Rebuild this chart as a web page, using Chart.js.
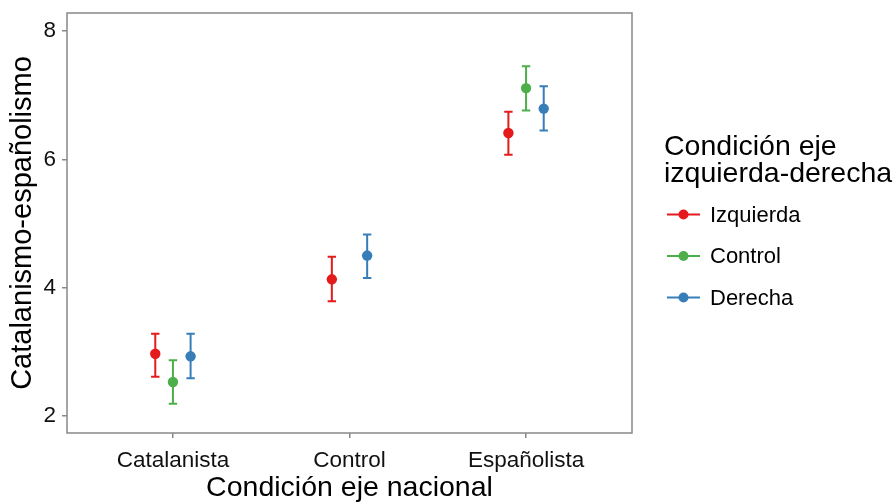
<!DOCTYPE html>
<html>
<head>
<meta charset="utf-8">
<script src="https://cdn.jsdelivr.net/npm/chart.js@4/dist/chart.umd.min.js"></script>
<style>
html,body{margin:0;padding:0;background:#fff;}
#wrap{width:896px;height:502px;position:relative;}
</style>
</head>
<body>
<div id="wrap"><canvas id="c" width="896" height="502"></canvas></div>
<script>
// ---- data ----
const categories = ['Catalanista', 'Control', 'Españolista'];
const seriesNames = ['Izquierda', 'Control', 'Derecha'];
const izquierdaMean = [2.97, 4.13, 6.41];
const izquierdaLow  = [2.61, 3.79, 6.07];
const izquierdaHigh = [3.28, 4.48, 6.74];
const controlMean = [2.53, null, 7.11];
const controlLow  = [2.19, null, 6.76];
const controlHigh = [2.87, null, 7.45];
const derechaMean = [2.93, 4.50, 6.79];
const derechaLow  = [2.59, 4.15, 6.45];
const derechaHigh = [3.28, 4.83, 7.14];
const yTicks = [2, 4, 6, 8];
const legendTitle = ['Condición eje', 'izquierda-derecha'];
const xTitle = 'Condición eje nacional';
const yTitle = 'Catalanismo-españolismo';

const colors = ['#E41A1C', '#4DAF4A', '#377EB8'];
const dodge = [-0.1, 0, 0.1];
const FONT = '"Liberation Sans", Arial, sans-serif';

const means = [izquierdaMean, controlMean, derechaMean];
const lows = [izquierdaLow, controlLow, derechaLow];
const highs = [izquierdaHigh, controlHigh, derechaHigh];

const datasets = seriesNames.map((name, s) => ({
  label: name,
  data: means[s].map((v, i) => v == null ? null : ({x: i + 1 + dodge[s], y: v, lo: lows[s][i], hi: highs[s][i]})).filter(d => d),
  backgroundColor: colors[s],
  borderColor: colors[s],
  pointRadius: 5.2,
  pointBorderWidth: 0,
  showLine: false
}));

const errorBars = {
  id: 'errorBars',
  beforeDatasetsDraw(chart) {
    const ctx = chart.ctx, xs = chart.scales.x, ys = chart.scales.y;
    ctx.save();
    ctx.lineWidth = 2;
    chart.data.datasets.forEach(ds => {
      ctx.strokeStyle = ds.borderColor;
      ds.data.forEach(d => {
        const x = xs.getPixelForValue(d.x);
        const y1 = ys.getPixelForValue(d.lo), y2 = ys.getPixelForValue(d.hi);
        const w = 4.2;
        ctx.beginPath();
        ctx.moveTo(x, y1); ctx.lineTo(x, y2);
        ctx.moveTo(x - w, y1); ctx.lineTo(x + w, y1);
        ctx.moveTo(x - w, y2); ctx.lineTo(x + w, y2);
        ctx.stroke();
      });
    });
    ctx.restore();
  }
};

const frameAndLegend = {
  id: 'frameAndLegend',
  afterDraw(chart) {
    const ctx = chart.ctx, a = chart.chartArea;
    ctx.save();
    ctx.strokeStyle = '#888888';
    ctx.lineWidth = 1.5;
    ctx.strokeRect(a.left, a.top, a.right - a.left, a.bottom - a.top);
    // legend
    ctx.fillStyle = '#000';
    ctx.textBaseline = 'alphabetic';
    ctx.textAlign = 'left';
    ctx.font = '28.5px ' + FONT;
    ctx.fillText(legendTitle[0], 664, 155);
    ctx.fillText(legendTitle[1], 664, 182);
    ctx.font = '22px ' + FONT;
    const ys = [214.5, 256, 297.5];
    chart.data.datasets.forEach((ds, i) => {
      const y = ys[i];
      ctx.strokeStyle = ds.borderColor;
      ctx.lineWidth = 2;
      ctx.beginPath(); ctx.moveTo(667, y); ctx.lineTo(700, y); ctx.stroke();
      ctx.fillStyle = ds.backgroundColor;
      ctx.beginPath(); ctx.arc(683.5, y, 5, 0, Math.PI * 2); ctx.fill();
      ctx.fillStyle = '#000';
      ctx.textBaseline = 'middle';
      ctx.fillText(ds.label, 710, y + 1);
    });
    ctx.restore();
  }
};

new Chart(document.getElementById('c'), {
  type: 'scatter',
  data: { datasets },
  plugins: [errorBars, frameAndLegend],
  options: {
    responsive: false,
    animation: false,
    events: [],
    layout: { padding: { top: 13, right: 264, left: 0, bottom: 0 } },
    plugins: { legend: { display: false }, tooltip: { enabled: false } },
    scales: {
      x: {
        type: 'linear', min: 0.4, max: 3.6,
        afterBuildTicks(scale) { scale.ticks = categories.map((c, i) => ({value: i + 1})); },
        afterFit(scale) { scale.height = 69; scale.paddingLeft = 0; scale.paddingRight = 0; },
        ticks: {
          callback: (v) => categories[Math.round(v) - 1] || '',
          color: '#111', font: { family: FONT, size: 22.5 }, padding: 9, maxRotation: 0, autoSkip: false
        },
        grid: { drawOnChartArea: false, drawTicks: true, tickLength: 5, color: '#888888', lineWidth: 1.5 },
        border: { display: false },
        title: { display: true, text: xTitle, color: '#000', font: { family: FONT, size: 28.5, lineHeight: 1 }, padding: { top: 0, bottom: 0 } }
      },
      y: {
        type: 'linear', min: 1.735, max: 8.28,
        afterBuildTicks(scale) { scale.ticks = yTicks.map(v => ({value: v})); },
        afterFit(scale) { scale.width = 67; scale.paddingTop = 0; scale.paddingBottom = 0; },
        ticks: { color: '#111', font: { family: FONT, size: 22.5 }, padding: 6 },
        grid: { drawOnChartArea: false, drawTicks: true, tickLength: 5, color: '#888888', lineWidth: 1.5 },
        border: { display: false },
        title: { display: true, text: yTitle, color: '#000', font: { family: FONT, size: 29, lineHeight: 1 }, padding: { top: 8, bottom: 0 } }
      }
    }
  }
});
</script>
</body>
</html>
